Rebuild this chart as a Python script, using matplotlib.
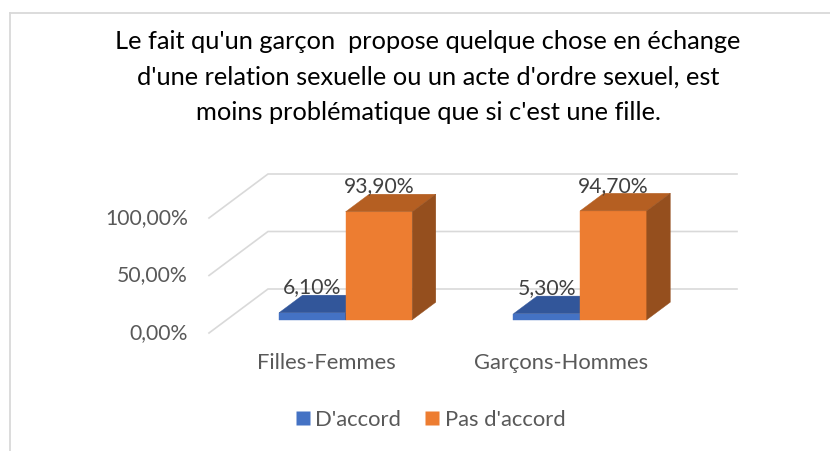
import matplotlib
matplotlib.use('Agg')
import matplotlib.pyplot as plt
from matplotlib.patches import Polygon
from matplotlib.lines import Line2D

# --- Données ---
categories = ['Filles-Femmes', 'Garçons-Hommes']
series = ["D'accord", "Pas d'accord"]
d_accord = [6.10, 5.30]
pas_d_accord = [93.90, 94.70]
valeurs = [d_accord, pas_d_accord]
yticks = [0, 50, 100]
ytick_labels = ['0,00%', '50,00%', '100,00%']
title = ("Le fait qu'un garçon  propose quelque chose en échange\n"
         "d'une relation sexuelle ou un acte d'ordre sexuel, est\n"
         "moins problématique que si c'est une fille.")

# couleurs : face avant, dessus, côté
couleurs = [('#4472C4', '#32569A', '#2B4A85'),
            ('#ED7D31', '#B55F22', '#954F1E')]
GRILLE = '#D9D9D9'
TEXTE = '#595959'

plt.rcParams['font.family'] = ['Lato', 'DejaVu Sans']

W, H = 830, 451
fig = plt.figure(figsize=(W / 100, H / 100), dpi=100)
ax = fig.add_axes([0, 0, 1, 1])
ax.axis('off')

# --- Repère "3D" : x en catégories, y en %, profondeur z de 0 à 1 ---
PX_CAT = 234.5          # pixels par catégorie
PX_PCT = 1.15           # pixels par %
X0, Y0 = 209, 333       # coin avant gauche du sol (pixels)
DX = 59 / PX_CAT        # décalage x pour toute la profondeur
DY = 44 / PX_PCT        # décalage y pour toute la profondeur
ax.set_xlim(-X0 / PX_CAT, (W - X0) / PX_CAT)
ax.set_ylim(-(H - Y0) / PX_PCT, Y0 / PX_PCT)


def proj(x, y, z):
    return (x + z * DX, y + z * DY)


# grille (mur du fond + mur gauche)
for t, lab in zip(yticks, ytick_labels):
    pts = [proj(0, t, 0), proj(0, t, 1), proj(len(categories), t, 1)]
    ax.plot([p[0] for p in pts], [p[1] for p in pts], color=GRILLE, lw=1.2,
            zorder=1, solid_joinstyle='miter')
    ax.text(-21 / PX_CAT, t, lab, ha='right', va='center', fontsize=15.2,
            color=TEXTE)

# barres
LARG = 0.284
Z0, Z1 = 0.3, 0.7
for i, cat in enumerate(categories):
    centre = i + 0.507
    for j, vals in enumerate(valeurs):
        v = vals[i]
        x0 = centre - LARG + j * LARG
        x1 = x0 + LARG
        avant, dessus, cote = couleurs[j]
        faces = [
            ([proj(x0, 0, Z0), proj(x1, 0, Z0), proj(x1, v, Z0), proj(x0, v, Z0)], avant),
            ([proj(x0, v, Z0), proj(x1, v, Z0), proj(x1, v, Z1), proj(x0, v, Z1)], dessus),
            ([proj(x1, 0, Z0), proj(x1, 0, Z1), proj(x1, v, Z1), proj(x1, v, Z0)], cote),
        ]
        for pts, c in faces:
            ax.add_patch(Polygon(pts, closed=True, facecolor=c, edgecolor=c,
                                 lw=0.3, zorder=2 + j))
        lx = proj((x0 + x1) / 2, v, Z0)[0]
        ly = proj(x0, v, Z1)[1]
        ax.text(lx, ly - 2, f'{v:.2f}%'.replace('.', ','), ha='center',
                va='bottom', fontsize=15.2, color='#404040', zorder=5)
    ax.text(i + 0.5, -26, cat, ha='center', va='center', fontsize=15.8,
            color=TEXTE)

# titre
fig.text(428 / W, 1 - 77 / H, title, ha='center', va='center', fontsize=18.3,
         color='black', linespacing=1.68)

# légende
poignees = [Line2D([], [], ls='none', marker='s', markersize=10,
                   markerfacecolor=couleurs[k][0], markeredgecolor='none')
            for k in range(len(series))]
fig.legend(poignees, series, loc='center', bbox_to_anchor=(429 / W, 1 - 420 / H),
           ncol=2, frameon=False, fontsize=15.8, labelcolor=TEXTE,
           handletextpad=0.1, columnspacing=1.0, handlelength=0.9)

# cadre du graphique
fig.add_artist(Line2D([10 / W, 1], [1 - 13 / H, 1 - 13 / H], color=GRILLE, lw=1.3))
fig.add_artist(Line2D([10 / W, 10 / W], [1 - 13 / H, 0], color=GRILLE, lw=1.3))

fig.savefig('out.png', dpi=100)
